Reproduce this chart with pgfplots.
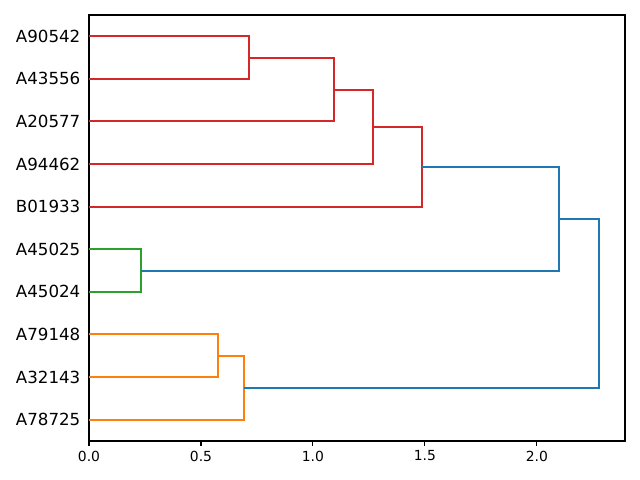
\documentclass[border=0pt]{standalone}
\usepackage{fontspec}
\setmainfont{DejaVu Sans}
\usepackage{pgfplots}
\pgfplotsset{compat=1.18}
\definecolor{cA}{HTML}{1F77B4}
\definecolor{cB}{HTML}{FF7F0E}
\definecolor{cC}{HTML}{2CA02C}
\definecolor{cD}{HTML}{D62728}
\begin{document}
\begin{tikzpicture}
\path[use as bounding box] (0,0) rectangle (460.8pt,345.6pt);
\begin{axis}[
  at={(64.08pt,28.08pt)}, anchor=south west,
  scale only axis, width=385.92pt, height=306.72pt,
  xmin=0, xmax=2.3937, ymin=0, ymax=100,
  xtick={0,0.5,1,1.5,2},
  xticklabels={0.0,0.5,1.0,1.5,2.0},
  ytick={5,15,25,35,45,55,65,75,85,95},
  yticklabels={A78725,A32143,A79148,A45024,A45025,B01933,A94462,A20577,A43556,A90542},
  x tick label style={font=\fontsize{10}{12}\selectfont},
  y tick label style={font=\fontsize{12}{14}\selectfont, xshift=0.8pt},
  tick align=outside,
  xtick pos=bottom,
  major tick length=3.5pt,
  y tick style={draw=none},
  ytick pos=left,
  tick style={black, line width=0.8pt},
  axis line style={line width=0.8pt},
  /pgf/number format/assume math mode=true,
  every axis plot/.append style={line width=1.44pt, line join=miter},
  clip=false,
]
\addplot[cB] coordinates {(0,25) (0.576,25) (0.576,15) (0,15)};
\addplot[cB] coordinates {(0.576,20) (0.692,20) (0.692,5) (0,5)};
\addplot[cC] coordinates {(0,45) (0.232,45) (0.232,35) (0,35)};
\addplot[cD] coordinates {(0,95) (0.714,95) (0.714,85) (0,85)};
\addplot[cD] coordinates {(0.714,90) (1.094,90) (1.094,75) (0,75)};
\addplot[cD] coordinates {(1.094,82.5) (1.268,82.5) (1.268,65) (0,65)};
\addplot[cD] coordinates {(1.268,73.75) (1.487,73.75) (1.487,55) (0,55)};
\addplot[cA] coordinates {(1.487,64.375) (2.098,64.375) (2.098,40) (0.232,40)};
\addplot[cA] coordinates {(2.098,52.1875) (2.277,52.1875) (2.277,12.5) (0.692,12.5)};
\end{axis}
\end{tikzpicture}
\end{document}
